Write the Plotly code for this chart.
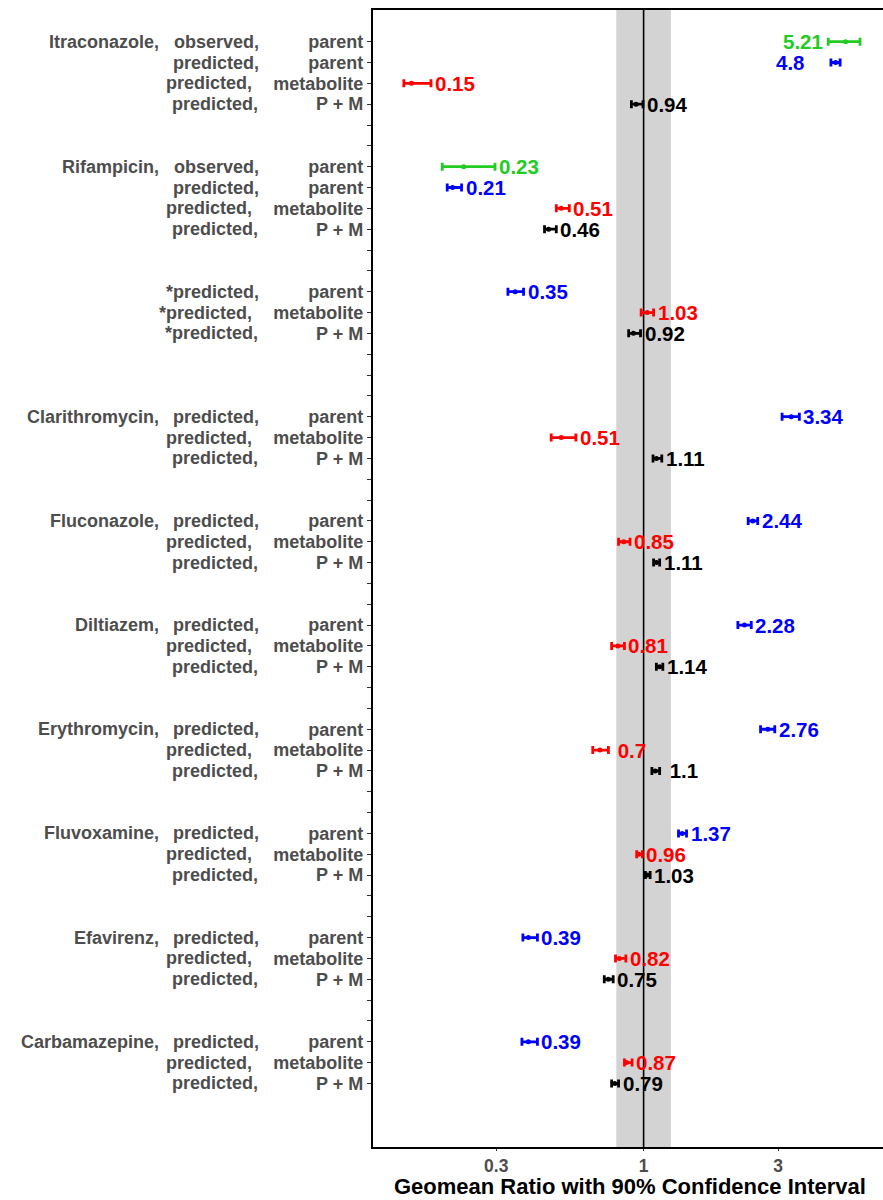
import math
import plotly.graph_objects as go

# ---- data -------------------------------------------------------------
# one entry per plotted row, top to bottom
row_group = [0, 0, 0, 0,
             1, 1, 1, 1,
             2, 2, 2,
             3, 3, 3,
             4, 4, 4,
             5, 5, 5,
             6, 6, 6,
             7, 7, 7,
             8, 8, 8,
             9, 9, 9]
group_drug = ["Itraconazole,", "Rifampicin,", "", "Clarithromycin,", "Fluconazole,",
              "Diltiazem,", "Erythromycin,", "Fluvoxamine,", "Efavirenz,", "Carbamazepine,"]
row_source = ["observed,", "predicted,", "predicted,", "predicted,",
              "observed,", "predicted,", "predicted,", "predicted,",
              "*predicted,", "*predicted,", "*predicted,"] + ["predicted,"] * 21
row_type = ["parent", "parent", "metabolite", "P + M",
            "parent", "parent", "metabolite", "P + M"] + ["parent", "metabolite", "P + M"] * 8

gmr = [5.21, 4.8, 0.15, 0.94,
       0.23, 0.21, 0.51, 0.46,
       0.35, 1.03, 0.92,
       3.34, 0.51, 1.11,
       2.44, 0.85, 1.11,
       2.28, 0.81, 1.14,
       2.76, 0.7, 1.1,
       1.37, 0.96, 1.03,
       0.39, 0.82, 0.75,
       0.39, 0.87, 0.79]
ci_lower = [4.52, 4.62, 0.141, 0.905,
            0.193, 0.201, 0.49, 0.445,
            0.33, 0.98, 0.885,
            3.10, 0.47, 1.08,
            2.35, 0.815, 1.085,
            2.16, 0.77, 1.11,
            2.60, 0.66, 1.07,
            1.33, 0.945, 1.015,
            0.373, 0.795, 0.725,
            0.37, 0.855, 0.77]
ci_upper = [5.86, 4.98, 0.176, 0.995,
            0.297, 0.226, 0.545, 0.49,
            0.375, 1.085, 0.975,
            3.57, 0.575, 1.16,
            2.54, 0.895, 1.14,
            2.41, 0.855, 1.17,
            2.92, 0.75, 1.14,
            1.42, 0.99, 1.055,
            0.42, 0.865, 0.78,
            0.42, 0.91, 0.815]

x_ticks = [0.3, 1, 3]
x_tick_labels = ["0.3", "1", "3"]
equivalence_band = (0.8, 1.25)
x_title = "Geomean Ratio with 90% Confidence Interval"

# ---- styling ----------------------------------------------------------
FONT = "Liberation Sans, Arial, sans-serif"
AXIS_GREY = "#4d4d4d"
COLORS = {"observed": "#22cc22", "parent": "#0000ff",
          "metabolite": "#ff0000", "P + M": "#000000"}
gap_after_group = [2, 2, 3, 2, 2, 2, 2, 2, 2]    # empty slots between blocks
labels_left = {0, 1}                              # rows whose value sits left of the bar
label_extra_shift = {1: -21}
col1_right_px = 161                               # right edge of drug-name column
col2_right_px = {"parent": 261, "metabolite": 254, "P + M": 260}
PLOT_LEFT = 373

# slot position of every row along the vertical axis
slot = []
pos = 0
for i, g in enumerate(row_group):
    if i > 0 and g != row_group[i - 1]:
        pos += 1 + gap_after_group[row_group[i - 1]]
    elif i > 0:
        pos += 1
    slot.append(pos)
last_slot = slot[-1]


def category(i):
    if row_source[i].startswith("observed"):
        return "observed"
    return row_type[i]


fig = go.Figure()

for cat in ["observed", "parent", "metabolite", "P + M"]:
    idx = [i for i in range(len(gmr)) if category(i) == cat]
    fig.add_trace(go.Scatter(
        x=[gmr[i] for i in idx],
        y=[slot[i] for i in idx],
        mode="markers",
        marker=dict(color=COLORS[cat], size=5),
        error_x=dict(type="data", symmetric=False,
                     array=[ci_upper[i] - gmr[i] for i in idx],
                     arrayminus=[gmr[i] - ci_lower[i] for i in idx],
                     color=COLORS[cat], thickness=2.8, width=4),
        showlegend=False,
        hoverinfo="x+y",
    ))

annotations = []
# value labels
for i, v in enumerate(gmr):
    txt = f"{v:g}".rjust(4, "\u00a0")
    c = COLORS[category(i)]
    vfont = dict(family=FONT, size=20.5, color=c, weight="bold")
    if i in labels_left:
        annotations.append(dict(x=math.log10(ci_lower[i]), y=slot[i], xref="x", yref="y",
                                text=f"{v:g}", showarrow=False, xanchor="right", yanchor="middle",
                                xshift=-3 + label_extra_shift.get(i, 0), font=vfont))
    else:
        annotations.append(dict(x=math.log10(ci_upper[i]), y=slot[i], xref="x", yref="y",
                                text=txt, showarrow=False, xanchor="left", yanchor="middle",
                                xshift=2, font=vfont))

# row label columns left of the axis
row_font = dict(family=FONT, size=18, color=AXIS_GREY, weight="bold")
for i in range(len(gmr)):
    first_in_group = i == 0 or row_group[i] != row_group[i - 1]
    if first_in_group and group_drug[row_group[i]]:
        annotations.append(dict(x=0, y=slot[i], xref="paper", yref="y",
                                text=group_drug[row_group[i]], showarrow=False,
                                xanchor="right", yanchor="middle",
                                xshift=col1_right_px - PLOT_LEFT, font=row_font))
    annotations.append(dict(x=0, y=slot[i], xref="paper", yref="y",
                            text=row_source[i], showarrow=False,
                            xanchor="right", yanchor="middle",
                            xshift=col2_right_px[row_type[i]] - PLOT_LEFT, font=row_font))

# horizontal axis title, centred on the panel
annotations.append(dict(x=0.5, y=0, xref="paper", yref="paper", text=x_title,
                        showarrow=False, xanchor="center", yanchor="middle",
                        xshift=2, yshift=-39,
                        font=dict(family=FONT, size=22, color="black", weight="bold")))

tick_text = [""] * (last_slot + 1)
for i, s in enumerate(slot):
    tick_text[s] = row_type[i]

shapes = [
    dict(type="rect", xref="x", yref="paper",
         x0=equivalence_band[0], x1=equivalence_band[1], y0=0, y1=1,
         fillcolor="#d3d3d3", line=dict(width=0), layer="below"),
    dict(type="line", xref="x", yref="paper", x0=1, x1=1, y0=0, y1=1,
         line=dict(color="black", width=1.6), layer="below"),
]

fig.update_layout(
    width=883, height=1200,
    margin=dict(l=PLOT_LEFT, r=0, t=10, b=53.3),
    paper_bgcolor="white", plot_bgcolor="white",
    shapes=shapes, annotations=annotations,
    xaxis=dict(
        type="log", range=[math.log10(0.1096), math.log10(7.07)],
        tickvals=x_ticks, ticktext=x_tick_labels,
        tickfont=dict(family=FONT, size=17.5, color=AXIS_GREY, weight="bold"),
        ticks="outside", ticklen=2, tickwidth=1.3, tickcolor="#333333",
        showline=True, linecolor="black", linewidth=2.2, mirror=True,
        showgrid=False, zeroline=False, automargin=False,
    ),
    yaxis=dict(
        range=[last_slot + 3.05, -1.52],
        tickvals=list(range(last_slot + 1)), ticktext=tick_text,
        tickfont=row_font,
        ticks="outside", ticklen=4, tickwidth=1.3, tickcolor="#333333",
        showline=True, linecolor="black", linewidth=2.2,
        showgrid=False, zeroline=False, automargin=False,
    ),
)

fig.write_html("out.html")
